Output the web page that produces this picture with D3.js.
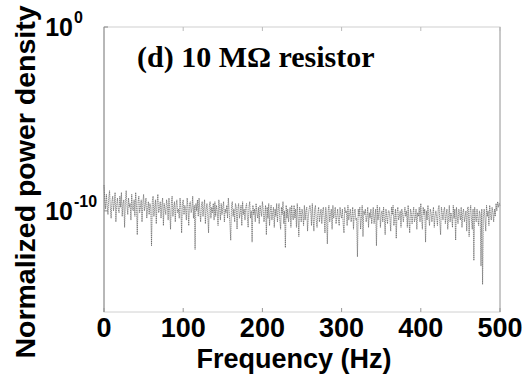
<!DOCTYPE html>
<html><head><meta charset="utf-8">
<script src="https://cdn.jsdelivr.net/npm/d3@7"></script>
<style>body{margin:0;background:#fff}</style>
</head><body>
<svg id="c" width="531" height="376"></svg>
<script>
// Data: log10 of normalized power density, sampled every 1 Hz from 0 to 500 Hz
const freqStep = 1;
const logPSD = [
-8.6,-9.4,-9.9,-9.1,-9.7,-10.2,-9.3,-8.9,-9.8,-10.4,-9.5,-9.2,-10.0,-9.6,-9.0,-10.6,-9.7,-9.3,-9.9,-10.1,
-9.2,-9.8,-9.0,-10.3,-9.6,-9.4,-10.9,-9.5,-8.9,-9.7,-10.2,-9.3,-9.8,-9.6,-10.5,-9.1,-9.9,-10.0,-9.4,-10.3,
-9.0,-9.7,-11.3,-9.5,-9.2,-10.1,-9.8,-9.4,-10.6,-9.6,-9.1,-10.0,-9.7,-9.3,-10.4,-9.9,-9.5,-10.2,-9.6,-9.8,
-11.9,-9.5,-9.2,-10.3,-9.8,-9.4,-10.7,-9.6,-9.1,-10.1,-9.9,-9.5,-10.4,-9.7,-9.3,-10.8,-9.6,-9.9,-10.2,-9.4,
-9.7,-10.5,-9.3,-10.0,-11.0,-9.6,-9.2,-10.3,-9.8,-9.5,-10.6,-9.7,-9.4,-10.1,-9.9,-10.4,-9.3,-9.8,-11.2,-9.6,
-9.4,-10.2,-9.7,-9.9,-10.5,-9.3,-9.8,-10.8,-9.6,-9.5,-10.1,-9.9,-9.2,-10.4,-9.7,-12.1,-9.6,-10.0,-9.4,-10.3,
-9.3,-10.0,-10.6,-9.7,-9.5,-10.3,-9.8,-9.4,-10.7,-9.9,-9.6,-10.2,-11.2,-9.7,-9.5,-10.4,-9.8,-10.1,-9.6,-10.5,
-9.5,-10.3,-9.7,-10.0,-10.8,-9.4,-9.9,-10.5,-9.6,-10.2,-9.8,-9.5,-10.6,-9.9,-10.1,-9.7,-10.4,-9.3,-10.0,-10.7,
-11.6,-9.7,-9.5,-10.3,-9.9,-10.6,-9.6,-9.8,-11.0,-9.9,-9.6,-10.4,-10.1,-9.7,-10.8,-9.5,-10.2,-9.9,-10.5,-9.8,
-9.6,-10.3,-10.9,-9.8,-9.5,-10.4,-10.0,-11.7,-9.7,-10.2,-9.9,-10.6,-9.6,-10.1,-10.4,-9.8,-10.7,-9.7,-10.0,-10.3,
-9.5,-9.9,-10.6,-10.2,-9.7,-11.3,-9.8,-10.4,-9.6,-10.8,-10.0,-9.7,-10.5,-10.1,-9.8,-10.9,-9.9,-10.3,-9.6,-10.6,
-9.9,-9.6,-10.5,-11.0,-9.8,-10.2,-9.5,-10.7,-10.0,-12.0,-9.7,-10.4,-9.9,-10.6,-10.1,-9.8,-10.9,-9.7,-10.3,-10.5,
-9.7,-10.4,-9.9,-10.9,-9.6,-10.3,-11.4,-9.8,-10.1,-10.6,-9.9,-10.2,-10.8,-9.7,-10.5,-10.0,-9.8,-11.1,-10.3,-9.9,
-9.7,-10.0,-10.8,-9.6,-10.4,-11.1,-9.9,-9.7,-10.5,-10.9,-10.1,-9.8,-10.6,-10.2,-9.9,-10.7,-10.0,-9.8,-10.4,-11.2,
-9.8,-10.3,-11.8,-10.0,-9.7,-10.6,-10.2,-9.9,-11.0,-9.7,-10.4,-10.1,-9.8,-10.7,-10.3,-9.9,-10.5,-10.8,-9.8,-10.2,
-10.4,-9.9,-10.7,-11.2,-9.8,-10.1,-10.0,-10.8,-9.7,-10.5,-10.2,-9.9,-10.6,-10.3,-9.8,-11.0,-10.1,-9.9,-10.5,-10.4,
-12.5,-9.9,-10.3,-9.8,-11.0,-10.4,-9.7,-11.4,-10.0,-10.2,-9.9,-10.6,-10.3,-9.8,-10.9,-10.1,-10.4,-9.9,-10.7,-10.2,
-9.8,-10.7,-10.3,-9.9,-11.9,-9.7,-10.5,-10.1,-9.8,-10.9,-10.2,-10.0,-10.6,-9.8,-10.4,-11.3,-9.9,-10.3,-10.7,-10.0,
-10.0,-10.4,-11.1,-9.8,-10.2,-9.7,-10.8,-10.4,-9.9,-11.5,-10.1,-9.8,-10.5,-10.3,-10.0,-10.9,-9.9,-10.2,-10.6,-10.1,
-9.8,-10.3,-10.0,-10.9,-9.7,-10.5,-11.2,-9.9,-10.1,-10.7,-10.2,-9.8,-10.6,-10.4,-9.9,-11.0,-10.1,-10.3,-9.8,-10.6,
-9.6,-10.4,-11.0,-9.8,-10.2,-9.9,-11.7,-10.0,-10.5,-9.7,-10.3,-10.8,-9.9,-10.1,-10.6,-10.2,-9.8,-10.9,-10.3,-10.0,
-10.3,-10.8,-9.9,-9.7,-10.6,-11.3,-9.8,-10.1,-10.5,-10.0,-9.8,-10.7,-10.2,-9.9,-11.0,-10.4,-9.7,-10.6,-10.1,-10.3,
-10.9,-9.7,-10.4,-9.9,-11.6,-9.8,-10.3,-10.7,-9.9,-10.2,-10.5,-9.8,-10.9,-10.1,-9.9,-10.6,-10.3,-10.0,-11.1,-9.8,
-9.8,-11.4,-10.1,-9.7,-10.5,-11.0,-9.9,-12.7,-9.8,-10.3,-10.6,-9.9,-10.4,-10.8,-10.0,-10.2,-13.0,-9.9,-14.0,-10.3,
-9.9,-10.4,-11.1,-9.7,-10.3,-10.0,-10.8,-9.7,-10.2,-10.5,-9.8,-10.1,-10.6,-9.9,-10.3,-9.6,-10.0,-9.5,-9.8,-9.6,
-9.7
];
const xTicks = [0, 100, 200, 300, 400, 500];
const yTickExps = [0, -10];
const title = "(d) 10 MΩ resistor";
const xLabel = "Frequency (Hz)";
const yLabel = "Normalized power density";

const svg = d3.select("#c");
const L = 104, R = 500, T = 27, B = 312;
const x = d3.scaleLinear().domain([0, 500]).range([L, R]);
const y = d3.scaleLog().domain([Math.pow(10, -15.5), 1]).range([B, T]);

const data = logPSD.map((v, i) => ({f: i * freqStep, p: Math.pow(10, v)}));
const sans = "Liberation Sans, Arial, sans-serif";

// box
svg.append("rect").attr("x", L).attr("y", T).attr("width", R - L).attr("height", B - T)
  .attr("fill", "none").attr("stroke", "#d0d0d0").attr("stroke-width", 1);
svg.append("line").attr("x1", L).attr("x2", L).attr("y1", T).attr("y2", B)
  .attr("stroke", "#888").attr("stroke-width", 1);
svg.append("line").attr("x1", R).attr("x2", R).attr("y1", T).attr("y2", B)
  .attr("stroke", "#aaa").attr("stroke-width", 1);

// data line
const line = d3.line().x(d => x(d.f)).y(d => y(d.p));
svg.append("path").datum(data).attr("d", line)
  .attr("fill", "none").attr("stroke", "#4a4a4a").attr("stroke-width", 0.6)
  .attr("stroke-dasharray", "1.5,0.6");

// x ticks
xTicks.forEach(t => {
  svg.append("line").attr("x1", x(t)).attr("x2", x(t)).attr("y1", B).attr("y2", B - 4)
    .attr("stroke", "#999");
  svg.append("line").attr("x1", x(t)).attr("x2", x(t)).attr("y1", T).attr("y2", T + 4)
    .attr("stroke", "#bbb");
  svg.append("text").attr("x", x(t)).attr("y", 337).attr("text-anchor", "middle")
    .attr("font-family", sans).attr("font-weight", "bold")
    .attr("font-size", 27).text(t);
});

// y ticks
yTickExps.forEach(e => {
  const yy = y(Math.pow(10, e));
  svg.append("line").attr("x1", L).attr("x2", L + 4).attr("y1", yy).attr("y2", yy).attr("stroke", "#888");
  svg.append("text").attr("x", 73).attr("y", yy + 9).attr("text-anchor", "end")
    .attr("font-family", sans).attr("font-weight", "bold")
    .attr("font-size", 25).text("10");
  svg.append("text").attr("x", 74).attr("y", yy - 4)
    .attr("font-family", sans).attr("font-weight", "bold")
    .attr("font-size", 16).text(String(e));
});

// title
svg.append("text").attr("x", 137).attr("y", 67)
  .attr("font-family", "Liberation Serif, Times New Roman, serif").attr("font-weight", "bold")
  .attr("font-size", 30).text(title);

// axis labels
svg.append("text").attr("x", 294).attr("y", 368).attr("text-anchor", "middle")
  .attr("font-family", sans).attr("font-weight", "bold")
  .attr("font-size", 27).text(xLabel);
svg.append("text").attr("transform", "translate(35,182) rotate(-90)").attr("text-anchor", "middle")
  .attr("font-family", sans).attr("font-weight", "bold")
  .attr("font-size", 28.5).text(yLabel);
</script>
</body></html>
